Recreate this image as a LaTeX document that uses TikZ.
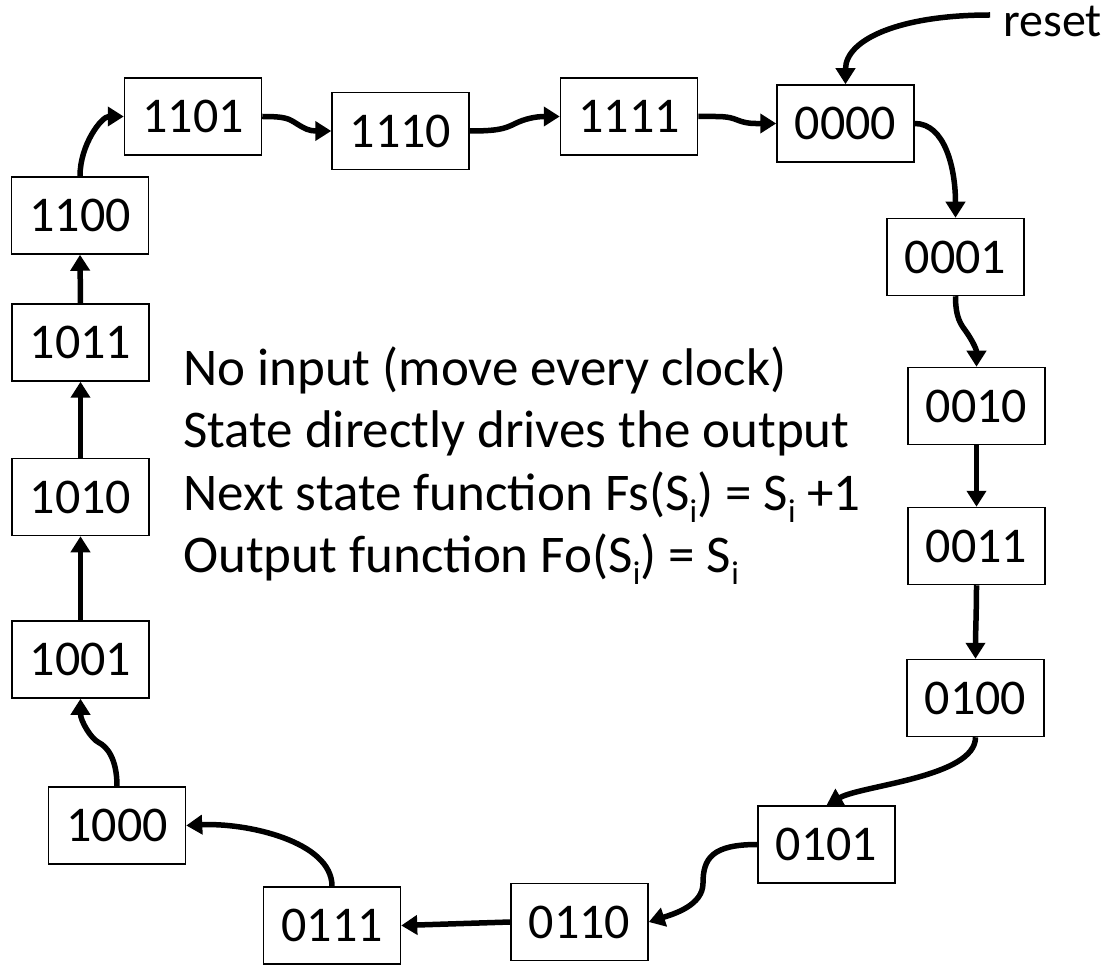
\documentclass[tikz,border=0pt]{standalone}
\usepackage{fontspec}
\setmainfont{Carlito}
\usetikzlibrary{arrows.meta,calc}
\newcommand\subi{\raisebox{-12pt}{\fontsize{33}{33}\selectfont i}}
\begin{document}
\begin{tikzpicture}[x=1pt,y=-1pt,
  st/.style={draw,line width=1.5pt,minimum width=137pt,minimum height=77pt,inner sep=0pt,font=\fontsize{50}{60}\selectfont},
  arr/.style={line width=5.5pt,-{Triangle[length=16pt,width=19pt]}},
  txt/.style={anchor=base west,inner sep=0pt,font=\fontsize{53}{64}\selectfont}]
\useasboundingbox (0,0) rectangle (1114,965);
% states
\node[st] (n1101) at (193,116.5) {1101};
\node[st] (n1110) at (400.5,131) {1110};
\node[st] (n1111) at (629,116.5) {1111};
\node[st] (n0000) at (845.5,123.5) {0000};
\node[st] (n0001) at (955.5,257) {0001};
\node[st] (n0010) at (976.5,406) {0010};
\node[st] (n0011) at (976.5,546) {0011};
\node[st] (n0100) at (975.5,698) {0100};
\node[st] (n0101) at (826.5,844.5) {0101};
\node[st] (n0110) at (579.5,922) {0110};
\node[st] (n0111) at (332,925.5) {0111};
\node[st] (n1000) at (117,825.5) {1000};
\node[st] (n1001) at (80.5,659.5) {1001};
\node[st] (n1010) at (80.5,497) {1010};
\node[st] (n1011) at (80.5,342.5) {1011};
\node[st] (n1100) at (80,215.5) {1100};
% reset label
\node[anchor=base west,inner sep=0pt,font=\fontsize{48}{58}\selectfont] (rs) at (1003,37) {reset};
% text
\node[txt] (l1) at (183,386) {No input (move every clock)};
\node[txt] (l2) at (183,448) {State directly drives the output};
\node[txt] (l3) at (183,510) {Next state function Fs(S\subi) = S\subi{} +1};
\node[txt] (l4) at (183,572) {Output function Fo(S\subi) = S\subi};
% connectors
\draw[arr] (n1100.north) .. controls +(0,-32) and +(-22,0) .. (n1101.west);
\draw[arr] (n1101.east) .. controls +(24,0) and +(-8,-5) .. ($(n1101.east)!0.5!(n1110.west)$) .. controls +(8,5) and +(-22,0) .. (n1110.west);
\draw[arr] (n1110.east) .. controls +(28,0) and +(-10,5) .. ($(n1110.east)!0.5!(n1111.west)$) .. controls +(10,-5) and +(-24,0) .. (n1111.west);
\draw[arr] (n1111.east) .. controls +(24,0) and +(-10,-4) .. ($(n1111.east)!0.5!(n0000.west)$) .. controls +(10,4) and +(-22,0) .. (n0000.west);
\draw[arr] ([xshift=-13pt,yshift=7pt]rs.west) .. controls +(-90,0) and +(0,-45) .. (n0000.north);
\draw[arr] (n0000.east) .. controls +(30,0) and +(0,-50) .. (n0001.north);
\draw[arr] (n0001.south) .. controls +(0,22) and +(-5,-7) .. ($(n0001.south)!0.5!(n0010.north)$) .. controls +(5,7) and +(0,-18) .. (n0010.north);
\draw[arr] (n0010.south) -- (n0011.north);
\draw[arr] (n0011.south) .. controls +(0,25) and +(0,-25) .. (n0100.north);
\draw[arr] (n0100.south) .. controls +(0,40) and +(35,-20) .. (n0101.north);
\draw[arr] (n0101.west) .. controls +(-45,0) and +(0,-25) .. ($(n0101.west)!0.5!(n0110.east)$) .. controls +(0,22) and +(25,-8) .. (n0110.east);
\draw[arr] (n0110.west) -- (n0111.east);
\draw[arr] (n0111.north) .. controls +(0,-45) and +(60,-3) .. (n1000.east);
\draw[arr] (n1000.north) .. controls +(0,-28) and +(8,4) .. ($(n1000.north)!0.5!(n1001.south)$) .. controls +(-8,-4) and +(0,22) .. (n1001.south);
\draw[arr] (n1001.north) -- (n1010.south);
\draw[arr] (n1010.north) .. controls +(0,-25) and +(0,25) .. (n1011.south);
\draw[arr] (n1011.north) -- (n1100.south);
\end{tikzpicture}
\end{document}
